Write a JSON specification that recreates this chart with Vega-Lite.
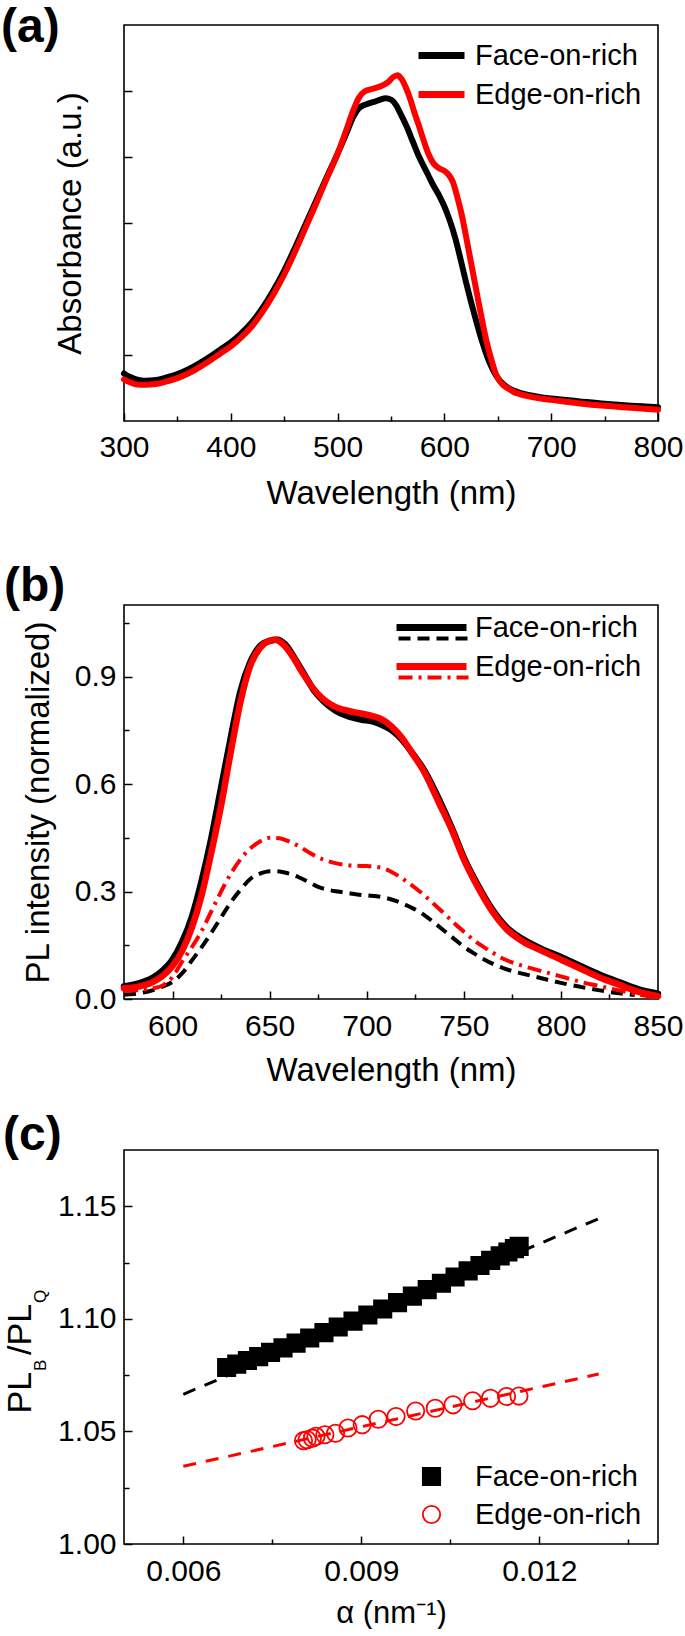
{
"$schema":"https://vega.github.io/schema/vega-lite/v6.json",
"background":"white",
"padding":{"left":0,"top":3,"right":0,"bottom":0},
"config":{
 "font":"Liberation Sans",
 "view":{"stroke":"#000000","strokeWidth":1.6},
 "axis":{"domain":false,"grid":false,"labelFont":"Liberation Sans","labelFontSize":30,"labelColor":"#000000","titleFont":"Liberation Sans","titleFontSize":33,"titleFontWeight":"normal","titleColor":"#000000","tickColor":"#000000","tickWidth":1.5},
 "legend":{"labelFont":"Liberation Sans","labelFontSize":29,"labelColor":"#000000","padding":0,"labelLimit":0},
 "title":{"font":"Liberation Sans","fontSize":48,"fontWeight":"bold","anchor":"start","frame":"group","color":"#000000"}
},
"spacing":184,
"bounds":"flush",
"resolve":{"scale":{"color":"independent","stroke":"independent","strokeDash":"independent","shape":"independent","fill":"independent"},"legend":{"color":"independent","stroke":"independent","strokeDash":"independent","shape":"independent","fill":"independent"}},
"vconcat":[
{
 "width":534,"height":396,
 "title":{"text":"(a)","dx":-123,"offset":-27},
 "data":{"values":[
{"wl":300,"abs":0.72,"sample":"Face-on-rich"},{"wl":305,"abs":0.67,"sample":"Face-on-rich"},{"wl":310,"abs":0.64,"sample":"Face-on-rich"},{"wl":315,"abs":0.62,"sample":"Face-on-rich"},{"wl":320,"abs":0.61,"sample":"Face-on-rich"},{"wl":330,"abs":0.62,"sample":"Face-on-rich"},{"wl":340,"abs":0.66,"sample":"Face-on-rich"},{"wl":350,"abs":0.71,"sample":"Face-on-rich"},{"wl":360,"abs":0.78,"sample":"Face-on-rich"},{"wl":370,"abs":0.87,"sample":"Face-on-rich"},{"wl":380,"abs":0.97,"sample":"Face-on-rich"},{"wl":390,"abs":1.08,"sample":"Face-on-rich"},{"wl":400,"abs":1.19,"sample":"Face-on-rich"},{"wl":410,"abs":1.33,"sample":"Face-on-rich"},{"wl":420,"abs":1.50,"sample":"Face-on-rich"},{"wl":430,"abs":1.72,"sample":"Face-on-rich"},{"wl":440,"abs":1.98,"sample":"Face-on-rich"},{"wl":450,"abs":2.28,"sample":"Face-on-rich"},{"wl":460,"abs":2.62,"sample":"Face-on-rich"},{"wl":470,"abs":2.98,"sample":"Face-on-rich"},{"wl":480,"abs":3.34,"sample":"Face-on-rich"},{"wl":490,"abs":3.70,"sample":"Face-on-rich"},{"wl":500,"abs":4.05,"sample":"Face-on-rich"},{"wl":508,"abs":4.35,"sample":"Face-on-rich"},{"wl":515,"abs":4.62,"sample":"Face-on-rich"},{"wl":520,"abs":4.74,"sample":"Face-on-rich"},{"wl":527,"abs":4.80,"sample":"Face-on-rich"},{"wl":535,"abs":4.84,"sample":"Face-on-rich"},{"wl":545,"abs":4.89,"sample":"Face-on-rich"},{"wl":550,"abs":4.87,"sample":"Face-on-rich"},{"wl":555,"abs":4.78,"sample":"Face-on-rich"},{"wl":560,"abs":4.62,"sample":"Face-on-rich"},{"wl":565,"abs":4.45,"sample":"Face-on-rich"},{"wl":570,"abs":4.25,"sample":"Face-on-rich"},{"wl":575,"abs":4.05,"sample":"Face-on-rich"},{"wl":580,"abs":3.88,"sample":"Face-on-rich"},{"wl":585,"abs":3.72,"sample":"Face-on-rich"},{"wl":590,"abs":3.56,"sample":"Face-on-rich"},{"wl":595,"abs":3.42,"sample":"Face-on-rich"},{"wl":600,"abs":3.25,"sample":"Face-on-rich"},{"wl":605,"abs":3.04,"sample":"Face-on-rich"},{"wl":610,"abs":2.78,"sample":"Face-on-rich"},{"wl":615,"abs":2.46,"sample":"Face-on-rich"},{"wl":620,"abs":2.12,"sample":"Face-on-rich"},{"wl":625,"abs":1.80,"sample":"Face-on-rich"},{"wl":630,"abs":1.50,"sample":"Face-on-rich"},{"wl":635,"abs":1.22,"sample":"Face-on-rich"},{"wl":640,"abs":0.98,"sample":"Face-on-rich"},{"wl":645,"abs":0.79,"sample":"Face-on-rich"},{"wl":650,"abs":0.65,"sample":"Face-on-rich"},{"wl":655,"abs":0.56,"sample":"Face-on-rich"},{"wl":660,"abs":0.50,"sample":"Face-on-rich"},{"wl":670,"abs":0.43,"sample":"Face-on-rich"},{"wl":680,"abs":0.39,"sample":"Face-on-rich"},{"wl":690,"abs":0.36,"sample":"Face-on-rich"},{"wl":700,"abs":0.34,"sample":"Face-on-rich"},{"wl":725,"abs":0.30,"sample":"Face-on-rich"},{"wl":750,"abs":0.26,"sample":"Face-on-rich"},{"wl":775,"abs":0.23,"sample":"Face-on-rich"},{"wl":800,"abs":0.21,"sample":"Face-on-rich"},
{"wl":300,"abs":0.63,"sample":"Edge-on-rich"},{"wl":305,"abs":0.59,"sample":"Edge-on-rich"},{"wl":310,"abs":0.56,"sample":"Edge-on-rich"},{"wl":315,"abs":0.55,"sample":"Edge-on-rich"},{"wl":320,"abs":0.55,"sample":"Edge-on-rich"},{"wl":330,"abs":0.56,"sample":"Edge-on-rich"},{"wl":340,"abs":0.60,"sample":"Edge-on-rich"},{"wl":350,"abs":0.65,"sample":"Edge-on-rich"},{"wl":360,"abs":0.72,"sample":"Edge-on-rich"},{"wl":370,"abs":0.81,"sample":"Edge-on-rich"},{"wl":380,"abs":0.91,"sample":"Edge-on-rich"},{"wl":390,"abs":1.02,"sample":"Edge-on-rich"},{"wl":400,"abs":1.13,"sample":"Edge-on-rich"},{"wl":410,"abs":1.27,"sample":"Edge-on-rich"},{"wl":420,"abs":1.44,"sample":"Edge-on-rich"},{"wl":430,"abs":1.66,"sample":"Edge-on-rich"},{"wl":440,"abs":1.92,"sample":"Edge-on-rich"},{"wl":450,"abs":2.22,"sample":"Edge-on-rich"},{"wl":460,"abs":2.56,"sample":"Edge-on-rich"},{"wl":470,"abs":2.93,"sample":"Edge-on-rich"},{"wl":480,"abs":3.30,"sample":"Edge-on-rich"},{"wl":490,"abs":3.68,"sample":"Edge-on-rich"},{"wl":500,"abs":4.05,"sample":"Edge-on-rich"},{"wl":508,"abs":4.40,"sample":"Edge-on-rich"},{"wl":515,"abs":4.72,"sample":"Edge-on-rich"},{"wl":520,"abs":4.90,"sample":"Edge-on-rich"},{"wl":525,"abs":4.99,"sample":"Edge-on-rich"},{"wl":532,"abs":5.03,"sample":"Edge-on-rich"},{"wl":540,"abs":5.07,"sample":"Edge-on-rich"},{"wl":547,"abs":5.13,"sample":"Edge-on-rich"},{"wl":552,"abs":5.21,"sample":"Edge-on-rich"},{"wl":556,"abs":5.24,"sample":"Edge-on-rich"},{"wl":560,"abs":5.18,"sample":"Edge-on-rich"},{"wl":564,"abs":5.05,"sample":"Edge-on-rich"},{"wl":568,"abs":4.88,"sample":"Edge-on-rich"},{"wl":572,"abs":4.67,"sample":"Edge-on-rich"},{"wl":576,"abs":4.48,"sample":"Edge-on-rich"},{"wl":580,"abs":4.28,"sample":"Edge-on-rich"},{"wl":585,"abs":4.05,"sample":"Edge-on-rich"},{"wl":590,"abs":3.90,"sample":"Edge-on-rich"},{"wl":595,"abs":3.83,"sample":"Edge-on-rich"},{"wl":600,"abs":3.79,"sample":"Edge-on-rich"},{"wl":604,"abs":3.73,"sample":"Edge-on-rich"},{"wl":608,"abs":3.62,"sample":"Edge-on-rich"},{"wl":612,"abs":3.40,"sample":"Edge-on-rich"},{"wl":616,"abs":3.14,"sample":"Edge-on-rich"},{"wl":620,"abs":2.82,"sample":"Edge-on-rich"},{"wl":624,"abs":2.48,"sample":"Edge-on-rich"},{"wl":628,"abs":2.14,"sample":"Edge-on-rich"},{"wl":632,"abs":1.80,"sample":"Edge-on-rich"},{"wl":636,"abs":1.47,"sample":"Edge-on-rich"},{"wl":640,"abs":1.17,"sample":"Edge-on-rich"},{"wl":644,"abs":0.93,"sample":"Edge-on-rich"},{"wl":648,"abs":0.72,"sample":"Edge-on-rich"},{"wl":652,"abs":0.60,"sample":"Edge-on-rich"},{"wl":656,"abs":0.53,"sample":"Edge-on-rich"},{"wl":660,"abs":0.49,"sample":"Edge-on-rich"},{"wl":665,"abs":0.44,"sample":"Edge-on-rich"},{"wl":670,"abs":0.41,"sample":"Edge-on-rich"},{"wl":680,"abs":0.37,"sample":"Edge-on-rich"},{"wl":690,"abs":0.34,"sample":"Edge-on-rich"},{"wl":700,"abs":0.32,"sample":"Edge-on-rich"},{"wl":725,"abs":0.27,"sample":"Edge-on-rich"},{"wl":750,"abs":0.23,"sample":"Edge-on-rich"},{"wl":775,"abs":0.20,"sample":"Edge-on-rich"},{"wl":800,"abs":0.17,"sample":"Edge-on-rich"}
 ]},
 "mark":{"type":"line","strokeWidth":6,"interpolate":"monotone","strokeCap":"round","strokeJoin":"round"},
 "encoding":{
  "x":{"field":"wl","type":"quantitative","scale":{"domain":[300,800],"nice":false,"zero":false},
   "axis":{"values":[300,350,400,450,500,550,600,650,700,750,800],"format":"d","labelExpr":"datum.value % 100 === 0 ? datum.label : ''","tickSize":{"condition":{"test":"datum.value % 100 === 0","value":-8},"value":-5},"labelPadding":19,"labelFlush":false,"labelOverlap":false,"title":"Wavelength (nm)","titlePadding":12}},
  "y":{"field":"abs","type":"quantitative","scale":{"domain":[0,6],"nice":false,"zero":false},
   "axis":{"values":[1,2,3,4,5],"labels":false,"tickSize":-8,"title":"Absorbance (a.u.)","titlePadding":36}},
  "color":{"field":"sample","type":"nominal","scale":{"domain":["Face-on-rich","Edge-on-rich"],"range":["#000000","#ff0000"]},
   "legend":{"title":null,"orient":"none","legendX":303,"legendY":16,"symbolType":"M-2.3,0L2.3,0","symbolSize":400,"symbolStrokeWidth":7,"labelOffset":19,"rowPadding":9}}
 }
},
{
 "spacing":151,
 "bounds":"flush",
 "resolve":{"scale":{"color":"independent","stroke":"independent","strokeDash":"independent","shape":"independent","fill":"independent"},"legend":{"color":"independent","stroke":"independent","strokeDash":"independent","shape":"independent","fill":"independent"}},
 "vconcat":[
 {
  "width":534,"height":394,
  "title":{"text":"(b)","dx":-120,"offset":-6},
  "layer":[
  {
   "data":{"values":[
{"wl":575,"pl":0.035,"sample":"Face-on-rich"},{"wl":580,"pl":0.04,"sample":"Face-on-rich"},{"wl":585,"pl":0.048,"sample":"Face-on-rich"},{"wl":590,"pl":0.06,"sample":"Face-on-rich"},{"wl":595,"pl":0.08,"sample":"Face-on-rich"},{"wl":600,"pl":0.11,"sample":"Face-on-rich"},{"wl":605,"pl":0.16,"sample":"Face-on-rich"},{"wl":610,"pl":0.23,"sample":"Face-on-rich"},{"wl":615,"pl":0.33,"sample":"Face-on-rich"},{"wl":620,"pl":0.45,"sample":"Face-on-rich"},{"wl":625,"pl":0.59,"sample":"Face-on-rich"},{"wl":630,"pl":0.73,"sample":"Face-on-rich"},{"wl":635,"pl":0.86,"sample":"Face-on-rich"},{"wl":640,"pl":0.94,"sample":"Face-on-rich"},{"wl":645,"pl":0.985,"sample":"Face-on-rich"},{"wl":650,"pl":1.0,"sample":"Face-on-rich"},{"wl":654,"pl":1.003,"sample":"Face-on-rich"},{"wl":658,"pl":0.99,"sample":"Face-on-rich"},{"wl":663,"pl":0.95,"sample":"Face-on-rich"},{"wl":668,"pl":0.905,"sample":"Face-on-rich"},{"wl":673,"pl":0.86,"sample":"Face-on-rich"},{"wl":678,"pl":0.83,"sample":"Face-on-rich"},{"wl":684,"pl":0.805,"sample":"Face-on-rich"},{"wl":690,"pl":0.79,"sample":"Face-on-rich"},{"wl":697,"pl":0.78,"sample":"Face-on-rich"},{"wl":703,"pl":0.775,"sample":"Face-on-rich"},{"wl":708,"pl":0.765,"sample":"Face-on-rich"},{"wl":713,"pl":0.75,"sample":"Face-on-rich"},{"wl":718,"pl":0.725,"sample":"Face-on-rich"},{"wl":723,"pl":0.69,"sample":"Face-on-rich"},{"wl":730,"pl":0.635,"sample":"Face-on-rich"},{"wl":737,"pl":0.56,"sample":"Face-on-rich"},{"wl":744,"pl":0.475,"sample":"Face-on-rich"},{"wl":750,"pl":0.395,"sample":"Face-on-rich"},{"wl":757,"pl":0.32,"sample":"Face-on-rich"},{"wl":764,"pl":0.255,"sample":"Face-on-rich"},{"wl":772,"pl":0.2,"sample":"Face-on-rich"},{"wl":780,"pl":0.168,"sample":"Face-on-rich"},{"wl":790,"pl":0.14,"sample":"Face-on-rich"},{"wl":800,"pl":0.117,"sample":"Face-on-rich"},{"wl":810,"pl":0.092,"sample":"Face-on-rich"},{"wl":820,"pl":0.068,"sample":"Face-on-rich"},{"wl":830,"pl":0.047,"sample":"Face-on-rich"},{"wl":840,"pl":0.027,"sample":"Face-on-rich"},{"wl":850,"pl":0.015,"sample":"Face-on-rich"},
{"wl":575,"pl":0.03,"sample":"Edge-on-rich"},{"wl":580,"pl":0.032,"sample":"Edge-on-rich"},{"wl":585,"pl":0.038,"sample":"Edge-on-rich"},{"wl":590,"pl":0.048,"sample":"Edge-on-rich"},{"wl":595,"pl":0.065,"sample":"Edge-on-rich"},{"wl":600,"pl":0.092,"sample":"Edge-on-rich"},{"wl":605,"pl":0.135,"sample":"Edge-on-rich"},{"wl":610,"pl":0.2,"sample":"Edge-on-rich"},{"wl":615,"pl":0.29,"sample":"Edge-on-rich"},{"wl":620,"pl":0.41,"sample":"Edge-on-rich"},{"wl":625,"pl":0.54,"sample":"Edge-on-rich"},{"wl":630,"pl":0.69,"sample":"Edge-on-rich"},{"wl":635,"pl":0.83,"sample":"Edge-on-rich"},{"wl":640,"pl":0.93,"sample":"Edge-on-rich"},{"wl":645,"pl":0.98,"sample":"Edge-on-rich"},{"wl":650,"pl":1.0,"sample":"Edge-on-rich"},{"wl":653,"pl":1.003,"sample":"Edge-on-rich"},{"wl":657,"pl":0.99,"sample":"Edge-on-rich"},{"wl":662,"pl":0.955,"sample":"Edge-on-rich"},{"wl":667,"pl":0.91,"sample":"Edge-on-rich"},{"wl":672,"pl":0.87,"sample":"Edge-on-rich"},{"wl":677,"pl":0.84,"sample":"Edge-on-rich"},{"wl":683,"pl":0.818,"sample":"Edge-on-rich"},{"wl":690,"pl":0.805,"sample":"Edge-on-rich"},{"wl":697,"pl":0.797,"sample":"Edge-on-rich"},{"wl":703,"pl":0.79,"sample":"Edge-on-rich"},{"wl":708,"pl":0.78,"sample":"Edge-on-rich"},{"wl":713,"pl":0.76,"sample":"Edge-on-rich"},{"wl":718,"pl":0.73,"sample":"Edge-on-rich"},{"wl":723,"pl":0.69,"sample":"Edge-on-rich"},{"wl":730,"pl":0.63,"sample":"Edge-on-rich"},{"wl":737,"pl":0.55,"sample":"Edge-on-rich"},{"wl":744,"pl":0.47,"sample":"Edge-on-rich"},{"wl":750,"pl":0.39,"sample":"Edge-on-rich"},{"wl":757,"pl":0.315,"sample":"Edge-on-rich"},{"wl":764,"pl":0.25,"sample":"Edge-on-rich"},{"wl":772,"pl":0.195,"sample":"Edge-on-rich"},{"wl":780,"pl":0.162,"sample":"Edge-on-rich"},{"wl":790,"pl":0.135,"sample":"Edge-on-rich"},{"wl":800,"pl":0.11,"sample":"Edge-on-rich"},{"wl":810,"pl":0.085,"sample":"Edge-on-rich"},{"wl":820,"pl":0.06,"sample":"Edge-on-rich"},{"wl":830,"pl":0.04,"sample":"Edge-on-rich"},{"wl":840,"pl":0.02,"sample":"Edge-on-rich"},{"wl":850,"pl":0.008,"sample":"Edge-on-rich"}
   ]},
   "mark":{"type":"line","strokeWidth":6.5,"interpolate":"monotone","strokeCap":"round","strokeJoin":"round"},
   "encoding":{
    "x":{"field":"wl","type":"quantitative","scale":{"domain":[575,850],"nice":false,"zero":false},
     "axis":{"values":[600,625,650,675,700,725,750,775,800,825,850],"format":"d","labelExpr":"datum.value % 50 === 0 ? datum.label : ''","tickSize":{"condition":{"test":"datum.value % 50 === 0","value":-8},"value":-5},"labelPadding":20,"labelFlush":false,"labelOverlap":false,"title":"Wavelength (nm)","titlePadding":10}},
    "y":{"field":"pl","type":"quantitative","scale":{"domain":[0,1.1],"nice":false,"zero":false},
     "axis":{"values":[0,0.15,0.3,0.45,0.6,0.75,0.9,1.05],"format":".1f","labelExpr":"round(datum.value*100) % 30 === 0 ? datum.label : ''","tickSize":{"condition":{"test":"round(datum.value*100) % 30 === 0","value":-8},"value":-5},"labelPadding":16,"labelFlush":false,"labelOverlap":false,"title":"PL intensity (normalized)","titlePadding":19}},
    "color":{"field":"sample","type":"nominal","scale":{"domain":["Face-on-rich","Edge-on-rich"],"range":["#000000","#ff0000"]},
     "legend":{"title":null,"orient":"none","legendX":293,"legendY":8,"symbolType":"M-3.5,0L3.5,0","symbolSize":400,"symbolStrokeWidth":7,"labelOffset":29,"rowPadding":9}}
   }
  },
  {
   "data":{"values":[
{"wl":575,"pl":0.012,"sample":"Face-on-rich dashed"},{"wl":580,"pl":0.014,"sample":"Face-on-rich dashed"},{"wl":585,"pl":0.018,"sample":"Face-on-rich dashed"},{"wl":590,"pl":0.025,"sample":"Face-on-rich dashed"},{"wl":595,"pl":0.035,"sample":"Face-on-rich dashed"},{"wl":600,"pl":0.048,"sample":"Face-on-rich dashed"},{"wl":605,"pl":0.072,"sample":"Face-on-rich dashed"},{"wl":610,"pl":0.108,"sample":"Face-on-rich dashed"},{"wl":615,"pl":0.145,"sample":"Face-on-rich dashed"},{"wl":620,"pl":0.185,"sample":"Face-on-rich dashed"},{"wl":625,"pl":0.228,"sample":"Face-on-rich dashed"},{"wl":630,"pl":0.27,"sample":"Face-on-rich dashed"},{"wl":635,"pl":0.305,"sample":"Face-on-rich dashed"},{"wl":640,"pl":0.335,"sample":"Face-on-rich dashed"},{"wl":645,"pl":0.35,"sample":"Face-on-rich dashed"},{"wl":650,"pl":0.357,"sample":"Face-on-rich dashed"},{"wl":655,"pl":0.356,"sample":"Face-on-rich dashed"},{"wl":660,"pl":0.35,"sample":"Face-on-rich dashed"},{"wl":665,"pl":0.34,"sample":"Face-on-rich dashed"},{"wl":670,"pl":0.327,"sample":"Face-on-rich dashed"},{"wl":675,"pl":0.313,"sample":"Face-on-rich dashed"},{"wl":680,"pl":0.305,"sample":"Face-on-rich dashed"},{"wl":685,"pl":0.3,"sample":"Face-on-rich dashed"},{"wl":690,"pl":0.296,"sample":"Face-on-rich dashed"},{"wl":695,"pl":0.292,"sample":"Face-on-rich dashed"},{"wl":700,"pl":0.289,"sample":"Face-on-rich dashed"},{"wl":705,"pl":0.287,"sample":"Face-on-rich dashed"},{"wl":710,"pl":0.282,"sample":"Face-on-rich dashed"},{"wl":715,"pl":0.274,"sample":"Face-on-rich dashed"},{"wl":720,"pl":0.263,"sample":"Face-on-rich dashed"},{"wl":725,"pl":0.25,"sample":"Face-on-rich dashed"},{"wl":730,"pl":0.233,"sample":"Face-on-rich dashed"},{"wl":735,"pl":0.212,"sample":"Face-on-rich dashed"},{"wl":740,"pl":0.19,"sample":"Face-on-rich dashed"},{"wl":745,"pl":0.168,"sample":"Face-on-rich dashed"},{"wl":750,"pl":0.146,"sample":"Face-on-rich dashed"},{"wl":755,"pl":0.128,"sample":"Face-on-rich dashed"},{"wl":760,"pl":0.112,"sample":"Face-on-rich dashed"},{"wl":765,"pl":0.098,"sample":"Face-on-rich dashed"},{"wl":770,"pl":0.087,"sample":"Face-on-rich dashed"},{"wl":775,"pl":0.078,"sample":"Face-on-rich dashed"},{"wl":780,"pl":0.071,"sample":"Face-on-rich dashed"},{"wl":790,"pl":0.058,"sample":"Face-on-rich dashed"},{"wl":800,"pl":0.045,"sample":"Face-on-rich dashed"},{"wl":810,"pl":0.034,"sample":"Face-on-rich dashed"},{"wl":820,"pl":0.024,"sample":"Face-on-rich dashed"},{"wl":830,"pl":0.016,"sample":"Face-on-rich dashed"},{"wl":838,"pl":0.011,"sample":"Face-on-rich dashed"},
{"wl":575,"pl":0.022,"sample":"Edge-on-rich dashed"},{"wl":580,"pl":0.024,"sample":"Edge-on-rich dashed"},{"wl":585,"pl":0.027,"sample":"Edge-on-rich dashed"},{"wl":590,"pl":0.03,"sample":"Edge-on-rich dashed"},{"wl":595,"pl":0.038,"sample":"Edge-on-rich dashed"},{"wl":600,"pl":0.062,"sample":"Edge-on-rich dashed"},{"wl":605,"pl":0.105,"sample":"Edge-on-rich dashed"},{"wl":610,"pl":0.145,"sample":"Edge-on-rich dashed"},{"wl":615,"pl":0.19,"sample":"Edge-on-rich dashed"},{"wl":620,"pl":0.245,"sample":"Edge-on-rich dashed"},{"wl":625,"pl":0.3,"sample":"Edge-on-rich dashed"},{"wl":630,"pl":0.35,"sample":"Edge-on-rich dashed"},{"wl":635,"pl":0.39,"sample":"Edge-on-rich dashed"},{"wl":640,"pl":0.42,"sample":"Edge-on-rich dashed"},{"wl":645,"pl":0.44,"sample":"Edge-on-rich dashed"},{"wl":650,"pl":0.45,"sample":"Edge-on-rich dashed"},{"wl":655,"pl":0.449,"sample":"Edge-on-rich dashed"},{"wl":660,"pl":0.44,"sample":"Edge-on-rich dashed"},{"wl":665,"pl":0.427,"sample":"Edge-on-rich dashed"},{"wl":670,"pl":0.41,"sample":"Edge-on-rich dashed"},{"wl":675,"pl":0.395,"sample":"Edge-on-rich dashed"},{"wl":680,"pl":0.385,"sample":"Edge-on-rich dashed"},{"wl":685,"pl":0.378,"sample":"Edge-on-rich dashed"},{"wl":690,"pl":0.374,"sample":"Edge-on-rich dashed"},{"wl":695,"pl":0.372,"sample":"Edge-on-rich dashed"},{"wl":700,"pl":0.371,"sample":"Edge-on-rich dashed"},{"wl":705,"pl":0.369,"sample":"Edge-on-rich dashed"},{"wl":710,"pl":0.362,"sample":"Edge-on-rich dashed"},{"wl":715,"pl":0.348,"sample":"Edge-on-rich dashed"},{"wl":720,"pl":0.33,"sample":"Edge-on-rich dashed"},{"wl":725,"pl":0.31,"sample":"Edge-on-rich dashed"},{"wl":730,"pl":0.288,"sample":"Edge-on-rich dashed"},{"wl":735,"pl":0.263,"sample":"Edge-on-rich dashed"},{"wl":740,"pl":0.238,"sample":"Edge-on-rich dashed"},{"wl":745,"pl":0.212,"sample":"Edge-on-rich dashed"},{"wl":750,"pl":0.188,"sample":"Edge-on-rich dashed"},{"wl":755,"pl":0.165,"sample":"Edge-on-rich dashed"},{"wl":760,"pl":0.146,"sample":"Edge-on-rich dashed"},{"wl":765,"pl":0.129,"sample":"Edge-on-rich dashed"},{"wl":770,"pl":0.113,"sample":"Edge-on-rich dashed"},{"wl":775,"pl":0.102,"sample":"Edge-on-rich dashed"},{"wl":780,"pl":0.093,"sample":"Edge-on-rich dashed"},{"wl":790,"pl":0.078,"sample":"Edge-on-rich dashed"},{"wl":800,"pl":0.063,"sample":"Edge-on-rich dashed"},{"wl":810,"pl":0.048,"sample":"Edge-on-rich dashed"},{"wl":820,"pl":0.036,"sample":"Edge-on-rich dashed"},{"wl":830,"pl":0.024,"sample":"Edge-on-rich dashed"},{"wl":840,"pl":0.013,"sample":"Edge-on-rich dashed"},{"wl":848,"pl":0.005,"sample":"Edge-on-rich dashed"}
   ]},
   "mark":{"type":"line","strokeWidth":4,"interpolate":"monotone"},
   "encoding":{
    "x":{"field":"wl","type":"quantitative"},
    "y":{"field":"pl","type":"quantitative"},
    "stroke":{"field":"sample","type":"nominal","scale":{"domain":["Face-on-rich dashed","Edge-on-rich dashed"],"range":["#000000","#ff0000"]},
     "legend":{"title":null,"orient":"none","legendX":295,"legendY":19,"symbolType":"M-3.5,0L3.5,0","symbolSize":400,"symbolStrokeWidth":4,"labelOffset":8,"rowPadding":9,"labelExpr":"' '"}},
    "strokeDash":{"field":"sample","type":"nominal","scale":{"domain":["Face-on-rich dashed","Edge-on-rich dashed"],"range":[[12,7],[14,6,3,6]]},
     "legend":{"title":null,"orient":"none","legendX":295,"legendY":19,"symbolType":"M-3.5,0L3.5,0","symbolSize":400,"symbolStrokeWidth":4,"labelOffset":8,"rowPadding":9,"labelExpr":"' '"}}
   }
  }
  ]
 },
 {
  "width":534,"height":394,
  "title":{"text":"(c)","dx":-121,"offset":-10},
  "resolve":{"axis":{"y":"independent"}},
  "layer":[
  {
   "data":{"values":[{"alpha":0.006,"ratio":1.0665,"fit":"Face-on-rich"},{"alpha":0.013,"ratio":1.1445,"fit":"Face-on-rich"}]},
   "mark":{"type":"line","color":"#000000","strokeWidth":3,"strokeDash":[13,10]},
   "encoding":{
    "x":{"field":"alpha","type":"quantitative","scale":{"domain":[0.005,0.014],"nice":false,"zero":false},
     "axis":{"values":[0.006,0.0075,0.009,0.0105,0.012,0.0135],"format":".3f","labelExpr":"(datum.value*1000) % 3 < 0.5 || (datum.value*1000) % 3 > 2.5 ? datum.label : ''","tickSize":{"condition":{"test":"(datum.value*1000) % 3 < 0.5 || (datum.value*1000) % 3 > 2.5","value":-8},"value":-5},"labelPadding":20,"labelFlush":false,"labelOverlap":false,"title":"α (nm⁻¹)","titleFontSize":31,"titlePadding":9}},
    "y":{"field":"ratio","type":"quantitative","scale":{"domain":[1.0,1.175],"nice":false,"zero":false},
     "axis":{"orient":"left","values":[1.0,1.025,1.05,1.075,1.1,1.125,1.15],"format":".2f","labelExpr":"round(datum.value*1000) % 50 === 0 ? datum.label : ''","tickSize":{"condition":{"test":"round(datum.value*1000) % 50 === 0","value":-8},"value":-5},"labelPadding":16,"labelFlush":false,"labelOverlap":false,"title":"PL\u2002/PL","titleFontSize":34,"titleAnchor":"start","titleAlign":"left","titleY":263,"titlePadding":20}}
   }
  },
  {
   "data":{"values":[{"alpha":0.006,"ratio":1.0345,"fit":"Edge-on-rich"},{"alpha":0.013,"ratio":1.0755,"fit":"Edge-on-rich"}]},
   "mark":{"type":"line","color":"#ff0000","strokeWidth":3,"strokeDash":[13,10]},
   "encoding":{"x":{"field":"alpha","type":"quantitative"},"y":{"field":"ratio","type":"quantitative","axis":null}}
  },
  {
   "data":{"values":[
{"alpha":0.00673,"ratio":1.0784,"sample":"Face-on-rich"},{"alpha":0.0069,"ratio":1.0799,"sample":"Face-on-rich"},{"alpha":0.00708,"ratio":1.0815,"sample":"Face-on-rich"},{"alpha":0.00727,"ratio":1.0832,"sample":"Face-on-rich"},{"alpha":0.00747,"ratio":1.0851,"sample":"Face-on-rich"},{"alpha":0.00768,"ratio":1.0871,"sample":"Face-on-rich"},{"alpha":0.0079,"ratio":1.0892,"sample":"Face-on-rich"},{"alpha":0.00813,"ratio":1.0915,"sample":"Face-on-rich"},{"alpha":0.00837,"ratio":1.0939,"sample":"Face-on-rich"},{"alpha":0.00861,"ratio":1.0964,"sample":"Face-on-rich"},{"alpha":0.00886,"ratio":1.099,"sample":"Face-on-rich"},{"alpha":0.00911,"ratio":1.1017,"sample":"Face-on-rich"},{"alpha":0.00936,"ratio":1.1044,"sample":"Face-on-rich"},{"alpha":0.00961,"ratio":1.1072,"sample":"Face-on-rich"},{"alpha":0.00986,"ratio":1.1101,"sample":"Face-on-rich"},{"alpha":0.01011,"ratio":1.113,"sample":"Face-on-rich"},{"alpha":0.01035,"ratio":1.1158,"sample":"Face-on-rich"},{"alpha":0.01058,"ratio":1.1186,"sample":"Face-on-rich"},{"alpha":0.0108,"ratio":1.1213,"sample":"Face-on-rich"},{"alpha":0.011,"ratio":1.1237,"sample":"Face-on-rich"},{"alpha":0.01118,"ratio":1.126,"sample":"Face-on-rich"},{"alpha":0.01134,"ratio":1.128,"sample":"Face-on-rich"},{"alpha":0.01147,"ratio":1.1297,"sample":"Face-on-rich"},{"alpha":0.01158,"ratio":1.1312,"sample":"Face-on-rich"},{"alpha":0.01166,"ratio":1.1322,"sample":"Face-on-rich"},
{"alpha":0.008025,"ratio":1.0459,"sample":"Edge-on-rich"},{"alpha":0.008086,"ratio":1.0463,"sample":"Edge-on-rich"},{"alpha":0.008175,"ratio":1.047,"sample":"Edge-on-rich"},{"alpha":0.008235,"ratio":1.0478,"sample":"Edge-on-rich"},{"alpha":0.008385,"ratio":1.0485,"sample":"Edge-on-rich"},{"alpha":0.008565,"ratio":1.0492,"sample":"Edge-on-rich"},{"alpha":0.008775,"ratio":1.0515,"sample":"Edge-on-rich"},{"alpha":0.009015,"ratio":1.053,"sample":"Edge-on-rich"},{"alpha":0.009285,"ratio":1.0554,"sample":"Edge-on-rich"},{"alpha":0.009585,"ratio":1.0566,"sample":"Edge-on-rich"},{"alpha":0.009916,"ratio":1.0591,"sample":"Edge-on-rich"},{"alpha":0.010245,"ratio":1.0603,"sample":"Edge-on-rich"},{"alpha":0.010546,"ratio":1.0618,"sample":"Edge-on-rich"},{"alpha":0.010876,"ratio":1.0636,"sample":"Edge-on-rich"},{"alpha":0.011176,"ratio":1.0647,"sample":"Edge-on-rich"},{"alpha":0.011447,"ratio":1.0655,"sample":"Edge-on-rich"},{"alpha":0.011657,"ratio":1.0657,"sample":"Edge-on-rich"}
   ]},
   "mark":{"type":"point","size":300,"strokeWidth":1.8,"opacity":1},
   "encoding":{
    "x":{"field":"alpha","type":"quantitative"},
    "y":{"field":"ratio","type":"quantitative","axis":{"orient":"left","labels":false,"ticks":false,"domain":false,"title":"\u200b\u00a0\u00a0\u00a0\u00a0\u00a0\u00a0\u00a0\u00a0\u00a0B\u00a0\u00a0\u00a0\u00a0\u00a0\u00a0\u00a0\u00a0\u00a0\u00a0\u00a0\u00a0Q","titleFontSize":17,"titleAnchor":"start","titleAlign":"left","titleY":263,"titlePadding":75}},
    "shape":{"field":"sample","type":"nominal","scale":{"domain":["Face-on-rich","Edge-on-rich"],"range":["square","circle"]},
     "legend":{"title":null,"orient":"none","legendX":293,"legendY":312,"symbolSize":300,"symbolStrokeWidth":1.8,"labelOffset":29,"rowPadding":8,
      "encode":{"symbols":{"update":{"fill":{"signal":"datum.value === 'Face-on-rich' ? '#000000' : 'transparent'"},"stroke":{"signal":"datum.value === 'Face-on-rich' ? '#000000' : '#ff0000'"},"opacity":{"value":1}}}}}},
    "fill":{"field":"sample","type":"nominal","scale":{"domain":["Face-on-rich","Edge-on-rich"],"range":["#000000","transparent"]},"legend":null},
    "stroke":{"field":"sample","type":"nominal","scale":{"domain":["Face-on-rich","Edge-on-rich"],"range":["#000000","#ff0000"]},"legend":null}
   }
  }
  ]
 }
 ]
}
]
}
